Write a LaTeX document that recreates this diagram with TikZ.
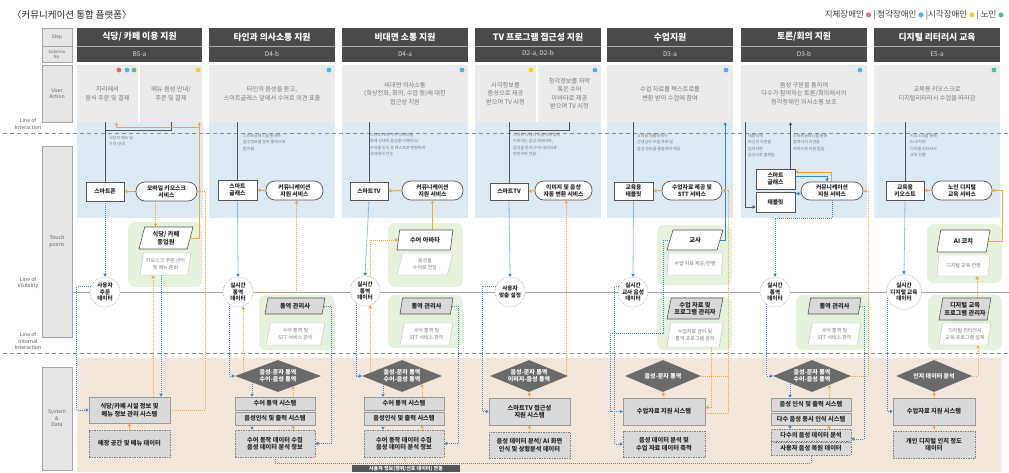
\documentclass[tikz,border=0pt]{standalone}
\usepackage{fontspec}
\setmainfont{Noto Sans CJK KR}
\usetikzlibrary{shapes.geometric,arrows.meta,calc}
\definecolor{hdrc}{HTML}{4A4A4A}
\definecolor{uag}{HTML}{EBEBEB}
\definecolor{bluebg}{HTML}{DDE9F3}
\definecolor{greenbg}{HTML}{E6F2DD}
\definecolor{beige}{HTML}{F3E7DC}
\definecolor{labg}{HTML}{E6E6E6}
\definecolor{sysg}{HTML}{D9D9D9}
\definecolor{diac}{HTML}{6A6A6A}
\definecolor{orc}{HTML}{F5A63A}
\definecolor{blc}{HTML}{3A86CC}
\definecolor{dkc}{HTML}{555555}
\definecolor{txg}{HTML}{7A7A7A}
\definecolor{dred}{HTML}{E8686A}
\definecolor{dblue}{HTML}{4BB4E6}
\definecolor{dyel}{HTML}{F6D01A}
\definecolor{dgrn}{HTML}{52C08D}
\newcommand\fs[2]{\fontsize{#1}{#2}\selectfont}
\newcommand\bx[7]{%
  \pgfmathsetmacro\bxw{#5-#3}%
  \pgfmathsetmacro\bxh{#6-#4}%
  \node[#2,minimum width=\bxw pt,minimum height=\bxh pt] (#1) at ({(#3+#5)/2},{(#4+#6)/2}) {#7};}
\pgfdeclarelayer{bg}
\pgfdeclarelayer{conn}
\pgfsetlayers{bg,conn,main}
\tikzset{
  arrtip/.style={-{Triangle[length=3pt,width=3.4pt]}},
  uap/.style={fill=uag, draw=none, inner sep=0pt, text=txg, font=\fs{6.2}{8.5}, align=center},
  tp/.style={draw=dkc, fill=white, line width=0.7pt, inner sep=0pt, font=\fs{5.8}{7.2}\bfseries, align=center, text=black!85},
  pill/.style={tp, rounded corners=9pt},
  act/.style={trapezium, trapezium left angle=75, trapezium right angle=105, trapezium stretches=true, draw=dkc, fill=white, line width=0.6pt, inner sep=0pt, font=\fs{6.2}{7.5}\bfseries, align=center, text=black!85},
  actg/.style={act, fill=sysg},
  actd/.style={act, draw=black!25, line width=0.4pt, font=\fs{5}{6.5}, text=txg},
  sys/.style={fill=sysg, draw=black!40, line width=0.5pt, inner sep=0pt, font=\fs{6.2}{7.6}\bfseries, align=center, text=black!85},
  dat/.style={sys, draw=black!50, dash pattern=on 1.5pt off 1pt},
  dia/.style={diamond, aspect=2.6, fill=diac, text=white, inner sep=0pt, minimum width=80pt, minimum height=32pt, font=\fs{6}{7.4}\bfseries, align=center},
  dcirc/.style={circle, draw=black!40, dash pattern=on 1pt off 1pt, fill=white, minimum size=30pt, inner sep=0pt, font=\fs{5.6}{6.8}\bfseries, align=center, text=black!85},
  note/.style={anchor=north west, inner sep=0pt, font=\fs{4}{6.4}, text=txg, align=left},
  grn/.style={fill=greenbg, rounded corners=7pt},
  dkl/.style={draw=dkc, line width=0.9pt},
  dka/.style={dkl, arrtip},
  osol/.style={draw=orc, line width=0.9pt, arrtip},
  bsol/.style={draw=blc, line width=0.9pt, arrtip},
  odot/.style={draw=orc, line width=0.8pt, dash pattern=on 1pt off 1pt, arrtip},
  bdot/.style={draw=blc, line width=0.8pt, dash pattern=on 1pt off 1pt, arrtip},
  gdot/.style={draw=black!50, line width=0.6pt, dash pattern=on 1pt off 1pt},
  hdrt/.style={fill=hdrc, inner sep=0pt, text=white, font=\fs{8.8}{10}\bfseries},
  hdrs/.style={fill=hdrc, inner sep=0pt, text=white!85!black, font=\fs{6.5}{8}},
  labbox/.style={fill=labg, draw=black!35, line width=0.5pt, inner sep=0pt, text=black!60, font=\fs{5.2}{6.5}, align=center},
  lin/.style={inner sep=0pt, text=black!65, font=\fs{5.2}{6.3}, align=center},
  sepl/.style={draw=white!55!hdrc, line width=0.5pt},
}
\begin{document}
\begin{tikzpicture}[x=1pt,y=-1pt]
\useasboundingbox (0,0) rectangle (1009,472);
\clip (0,0) rectangle (1009,472);

% ---------------- backgrounds ----------------
\begin{pgfonlayer}{bg}
\fill[white] (0,0) rectangle (1009,472);
\fill[beige] (77,358) rectangle (1001,472);
\foreach \l in {77,209,342,475,607,741,874}{
  \fill[bluebg] (\l,122) rectangle ({\l+126},218);
}
\fill[grn] (128,222) rectangle (202,287);
\fill[grn] (259,295) rectangle (335,350);
\fill[grn] (388,223) rectangle (463,287);
\fill[grn] (388,295) rectangle (463,348);
\fill[grn] (657,225) rectangle (732,285);
\fill[grn] (657,297) rectangle (732,350);
\fill[grn] (796,295) rectangle (870,350);
\fill[grn] (927,224) rectangle (1002,283);
\fill[grn] (928,295) rectangle (1002,350);
\draw[black!45, line width=0.6pt, dash pattern=on 4pt off 3pt] (3,133) -- (1009,133);
\draw[black!35, line width=0.7pt] (72,292) -- (1009,292);
\draw[black!45, line width=0.6pt, dash pattern=on 4pt off 3pt] (3,353) -- (1009,353);
\end{pgfonlayer}

% ---------------- title & legend ----------------
\node[anchor=west, inner sep=0pt, font=\fs{9.5}{11}, text=black!85] (title) at (12,15) {〈커뮤니케이션 통합 플랫폼〉};
\node[anchor=east, inner sep=0pt, font=\fs{8.5}{10}, text=black!75] (legend) at (1004,15)
  {지체장애인 {\fs{5.5}{5.5}\textcolor{dred}{●}} | 청각장애인 {\fs{5.5}{5.5}\textcolor{dblue}{●}} |시각장애인 {\fs{5.5}{5.5}\textcolor{dyel}{●}} | 노인 {\fs{5.5}{5.5}\textcolor{dgrn}{●}}};

% ---------------- left labels ----------------
\bx{lstep}{labbox,font=\fs{4.8}{5.5}}{42}{28}{72}{46}{Step}
\bx{lsol}{labbox,font=\fs{4.3}{4.8}}{42}{46}{72}{62}{Solution\\No.}
\bx{lua}{labbox}{42}{65}{72}{122}{User\\Action}
\bx{ltp}{labbox}{42}{146}{72}{337}{Touch\\points}
\bx{lsd}{labbox}{42}{367}{72}{470}{System\\\&\\Data}
\node[lin] (l1) at (28,124) {Line of\\Interaction};
\node[lin] (l2) at (28,283) {Line of\\Visibility};
\node[lin] (l3) at (28,341) {Line of\\Internal\\Interaction};

% ---------------- headers ----------------
\bx{h1}{hdrt}{77}{28}{202}{46}{식당/ 카페 이용 지원}
\bx{s1}{hdrs}{77}{46}{202}{62}{B5-a}
\bx{h2}{hdrt}{209}{28}{335}{46}{타인과 의사소통 지원}
\bx{s2}{hdrs}{209}{46}{335}{62}{D4-b}
\bx{h3}{hdrt}{342}{28}{468}{46}{비대면 소통 지원}
\bx{s3}{hdrs}{342}{46}{468}{62}{D4-a}
\bx{h4}{hdrt}{475}{28}{601}{46}{TV 프로그램 접근성 지원}
\bx{s4}{hdrs}{475}{46}{601}{62}{D2-a, D2-b}
\bx{h5}{hdrt}{607}{28}{733}{46}{수업지원}
\bx{s5}{hdrs}{607}{46}{733}{62}{D3-a}
\bx{h6}{hdrt}{741}{28}{867}{46}{토론/회의 지원}
\bx{s6}{hdrs}{741}{46}{867}{62}{D3-b}
\bx{h7}{hdrt}{874}{28}{1000}{46}{디지털 리터러시 교육}
\bx{s7}{hdrs}{874}{46}{1000}{62}{E5-a}
\foreach \n in {1,...,7}{\draw[sepl] (h\n.south west) -- (h\n.south east);}
\draw[draw=black!35, line width=0.5pt] (lstep.south west) -- (lstep.south east);

% ---------------- user action ----------------
\bx{ua1a}{uap}{77}{65}{138}{122}{자리에서\\음식 주문 및 결제}
\bx{ua1b}{uap}{140}{65}{202}{122}{메뉴 음성 안내/\\주문 및 결제}
\bx{ua2}{uap}{209}{65}{335}{122}{타인의 음성을 듣고,\\스마트글래스 앞에서 수어로 의견 표출}
\bx{ua3}{uap}{342}{65}{468}{122}{비대면 의사소통\\(화상전화, 회의, 수업 등)에 대한\\접근성 지원}
\bx{ua4a}{uap}{475}{65}{536}{122}{시각정보를\\음성으로 제공\\받으며 TV 시청}
\bx{ua4b}{uap}{538}{65}{601}{122}{청각정보를 자막\\혹은 수어\\아바타로 제공\\받으며 TV 시청}
\bx{ua5}{uap}{607}{65}{733}{122}{수업 자료를 텍스트로를\\변환 받아 수업에 참여}
\bx{ua6}{uap}{741}{65}{867}{122}{음성 구분을 통하여\\다수가 참여하는 토론/회의에서의\\청각장애인 의사소통 보조}
\bx{ua7}{uap}{874}{65}{1000}{122}{교육용 키오스크로\\디지털리터러시 수업을 따라감}
\fill[dred] (119,70) circle (2.4);
\fill[dblue] (127,70) circle (2.4);
\fill[dgrn] (134,70) circle (2.4);
\fill[dyel] (198,70) circle (2.4);
\fill[dblue] (329,70) circle (2.4);
\fill[dblue] (462,70) circle (2.4);
\fill[dyel] (531,70) circle (2.4);
\fill[dblue] (595,70) circle (2.4);
\fill[dblue] (726,70) circle (2.4);
\fill[dblue] (860,70) circle (2.4);
\fill[dgrn] (994,70) circle (2.4);

% ---------------- notes ----------------
\node[note] (n1) at (109,136) {식당의 메뉴 및\\가격 안내};
\node[note] (n2) at (243,134) {스마트글래스를 통하여\\음성정보를 문자 통역으로\\받아봄};
\node[note] (n3) at (370,133) {스마트TV와 수어 아바타를\\통해 상대의 음성을 이해하고/\\수어를 인식 후 텍스트로 변환하여\\상대에게 전송};
\node[note] (n4) at (513,133) {스마트TV에서 사용자에 맞춰\\이미지는 음성 데이터로,\\음성을 문자/수어 데이터로\\변환하여 전달};
\node[note] (n5) at (637,134) {교육용 태블릿에서\\선생님의 수업 자료 및\\음성 정보를 통합하여 제공};
\node[note] (n6a) at (748,134) {태블릿에\\자신의 의견을\\입력하면\\음성으로 출력됨};
\node[note] (n6b) at (793,134) {스마트글래스를 통해\\참여자의 의견을\\자막으로 지원 받음};
\node[note] (n7) at (910,134) {키오스크를 통해\\AI 코치와\\디지털 리터러시\\교육 진행};

% ---------------- column 1 ----------------
\bx{tp1a}{tp}{86}{182}{124}{201}{스마트폰}
\bx{tp1b}{pill}{136}{182}{197}{201}{모바일 키오스크\\서비스}
\bx{ac1}{act}{139}{227}{193}{249}{식당/ 카페\\종업원}
\bx{ac1d}{actd}{140}{253}{191}{275}{키오스크 주문 관리\\및 메뉴 준비}
\node[dcirc] (ci1) at (105,292) {사용자\\주문\\데이터};
\bx{sy1}{sys}{89}{397}{170}{423}{식당/카페 시설 정보 및\\메뉴 정보 관리 시스템}
\bx{db1}{dat}{89}{430}{170}{457}{매장 공간 및 메뉴 데이터}

% ---------------- column 2 ----------------
\bx{tp2a}{tp}{218}{180}{257}{200}{스마트\\글래스}
\bx{tp2b}{pill}{266}{181}{323}{200}{커뮤니케이션\\지원 서비스}
\node[dcirc] (ci2) at (238,292) {실시간\\통역\\데이터};
\bx{ac2}{actg}{265}{298}{325}{314}{통역 관리사}
\bx{ac2d}{actd}{266}{323}{325}{345}{수어 통역 및\\STT 서비스 관리}
\node[dia, minimum width=86pt] (di2) at (278,376) {음성-문자 통역\\수어-음성 통역};
\bx{sy2a}{sys}{235}{397}{315}{410}{수어 통역 시스템}
\bx{sy2b}{sys}{235}{412}{315}{425}{음성인식 및 출력 시스템}
\bx{db2}{dat}{235}{430}{315}{457}{수어 동작 데이터 수집\\음성 데이터 분석 정보}

% ---------------- column 3 ----------------
\bx{tp3a}{tp}{350}{182}{388}{200}{스마트TV}
\bx{tp3b}{pill}{402}{181}{463}{200}{커뮤니케이션\\지원 서비스}
\bx{ac3}{act}{397}{230}{453}{250}{수어 아바타}
\bx{ac3d}{actd}{397}{253}{453}{275}{음성을\\수어로 전달}
\node[dcirc] (ci3) at (365,291) {실시간\\통역\\데이터};
\bx{ac3g}{actg}{400}{298}{453}{314}{통역 관리사}
\bx{ac3gd}{actd}{400}{323}{453}{345}{수어 통역 및\\STT 서비스 관리}
\node[dia] (di3) at (402,376) {음성-문자 통역\\수어-음성 통역};
\bx{sy3a}{sys}{364}{397}{444}{410}{수어 통역 시스템}
\bx{sy3b}{sys}{364}{412}{444}{425}{음성인식 및 출력 시스템}
\bx{db3}{dat}{364}{430}{444}{457}{수어 동작 데이터 수집\\음성 데이터 분석 정보}

% ---------------- column 4 ----------------
\bx{tp4a}{tp}{490}{183}{528}{200}{스마트TV}
\bx{tp4b}{pill}{535}{181}{592}{200}{이미지 및 음성\\자동 변환 서비스}
\node[dcirc] (ci4) at (510,292) {사용자\\맞춤 설정};
\node[dia, minimum width=78pt] (di4) at (529,376) {음성-문자 통역\\이미지-음성 통역};
\bx{sy4}{sys}{489}{398}{570}{425}{스마트TV 접근성\\지원 시스템}
\bx{db4}{dat}{489}{432}{570}{458}{음성 데이터 분석/ AI 화면\\인식 및 상황분석 데이터}

% ---------------- column 5 ----------------
\bx{tp5a}{tp}{614}{182}{653}{200}{교육용\\태블릿}
\bx{tp5b}{pill}{662}{181}{722}{200}{수업자료 제공 및\\STT 서비스}
\bx{ac5}{act}{667}{230}{723}{250}{교사}
\bx{ac5d}{actd}{667}{253}{723}{275}{수업 자료 제공/진행}
\node[dcirc] (ci5) at (633,292) {실시간\\교사 음성\\데이터};
\bx{ac5g}{actg}{667}{298}{723}{319}{수업 자료 및\\프로그램 관리자}
\bx{ac5gd}{actd}{667}{323}{723}{347}{수업자료 관리 및\\통역 프로그램 관리}
\node[dia, minimum width=76pt] (di5) at (663,376) {음성-문자 통역};
\bx{sy5}{sys}{623}{398}{705}{425}{수업자료 지원 시스템}
\bx{db5}{dat}{623}{431}{705}{457}{음성 데이터 분석 및\\수업 자료 데이터 축적}

% ---------------- column 6 ----------------
\bx{tp6a}{tp}{756}{169}{795}{189}{스마트\\글래스}
\bx{tp6c}{tp}{756}{192}{795}{212}{태블릿}
\bx{tp6b}{pill}{801}{182}{863}{200}{커뮤니케이션\\지원 서비스}
\node[dcirc] (ci6) at (775,292) {실시간\\통역\\데이터};
\bx{ac6}{actg}{808}{298}{861}{314}{통역 관리사}
\bx{ac6d}{actd}{808}{323}{861}{345}{수어 통역 및\\STT 서비스 관리}
\node[dia, minimum width=78pt] (di6) at (812,376) {음성-문자 통역\\수어-음성 통역};
\bx{sy6a}{sys}{771}{398}{851}{411}{음성 인식 및 출력 시스템}
\bx{sy6b}{sys}{771}{413}{851}{425}{다수 음성 동시 인식 시스템}
\bx{db6a}{dat}{771}{429}{851}{441}{다수의 음성 데이터 분석}
\bx{db6b}{dat}{771}{442}{851}{455}{사용자 음성 복원 데이터}

% ---------------- column 7 ----------------
\bx{tp7a}{tp}{886}{181}{924}{200}{교육용\\키오스트}
\bx{tp7b}{pill}{932}{181}{992}{200}{노인 디지털\\교육 서비스}
\bx{ac7}{act}{937}{230}{990}{252}{AI 코치}
\bx{ac7d}{actd}{937}{255}{990}{276}{디지털 교육 진행}
\node[dcirc, minimum size=35pt] (ci7) at (904,292) {실시간\\디지털 교육\\데이터};
\bx{ac7g}{actg}{939}{298}{991}{320}{디지털 교육\\프로그램 관리자}
\bx{ac7gd}{actd}{939}{323}{991}{345}{디지털 리터러시\\교육 프로그램 설계}
\node[dia, minimum width=76pt] (di7) at (934,376) {인지 데이터 분석};
\bx{sy7}{sys}{893}{398}{975}{425}{수업자료 지원 시스템}
\bx{db7}{dat}{893}{431}{975}{458}{개인 디지털 인지 정도\\데이터}

% bottom shared box
\bx{bot}{fill=dkc, inner sep=0pt, text=white, font=\fs{5}{6}\bfseries}{352}{465}{460}{472}{사용자 정보(행위/선호 데이터) 연동}

% ---------------- connectors ----------------
\begin{pgfonlayer}{conn}
% col 1
\draw[dkl] (ua1a.south -| tp1a.north) -- (tp1a.north);
\draw[dkl] (ua1b.south) -- ++(0,8) -| (tp1a.north);
\draw[osol] (ac1.east) -| ([xshift=-3pt]ua1b.south east);
\draw[osol] ($(ua1b.south east)+(-3,5)$) -| ([xshift=9pt]ua1a.south);
\draw[osol] (tp1b.west) -- (tp1a.east);
\draw[odot] ([xshift=-11pt]tp1b.south) -- ([xshift=-11pt]tp1b.south |- ac1.north);
\draw[bdot] (tp1a.south) -- (ci1.north);
\draw[bdot] (ci1.160) -- ++(-14,0) |- (sy1.west);
\draw[odot] (sy1.north -| 153,0) -- (ac1d.south -| 153,0);
\draw[bdot] (ac1d.south -| 161,0) -- (sy1.north -| 161,0);
\draw[odot] (sy1.east) -| ([xshift=8pt]tp1b.east) -- (tp1b.east);
\draw[odot] (db1.north) -- (sy1.south);
% col 2
\draw[dkl] (ua2.south -| tp2a.north) -- (tp2a.north);
\draw[osol] (tp2b.west) -- (tp2a.east);
\draw[bdot] (tp2a.south) -- (ci2.north);
\draw[odot] (ci2.east) -| ([xshift=2pt]tp2b.south);
\draw[odot] (di2 -| ci2.290) -- (ci2.290);
\draw[bdot] (ci2.235) |- (di2.west);
\draw[bdot] (di2 -| 252,0) -- (sy2a.north -| 252,0);
\draw[odot] (sy2a.north -| 293,0) -- ($(di2.south)+(15,-6)$);
\draw[bdot] (sy2b.south -| 252,0) -- (db2.north -| 252,0);
\draw[odot] (db2.north -| 293,0) -- (sy2b.south -| 293,0);
\draw[bdot] (ac2.east) -| ([xshift=16pt]db2.east) -- (db2.east);
% col 3
\draw[dkl] (ua3.south -| tp3a.north) -- (tp3a.north);
\draw[osol] (tp3b.west) -- (tp3a.east);
\draw[osol] (tp3b.south |- ac3.north) -- (tp3b.south);
\draw[bdot] (tp3a.south) -- (ci3.north);
\draw[odot] (ci3.70) |- (ac3.west);
\draw[odot] (di3 -| ci3.290) -- (ci3.290);
\draw[bdot] (ci3.235) |- (di3.west);
\draw[bdot] (di3 -| 383,0) -- (sy3a.north -| 383,0);
\draw[odot] (sy3a.north -| 422,0) -- ($(di3.south)+(20,-8)$);
\draw[bdot] (sy3b.south -| 383,0) -- (db3.north -| 383,0);
\draw[odot] (db3.north -| 422,0) -- (sy3b.south -| 422,0);
\draw[bdot] (ac3g.east) -| ([xshift=14pt]db3.east) -- (db3.east);
% col 4
\draw[dkl] (ua4a.south -| tp4a.north) -- (tp4a.north);
\draw[dkl] (ua4b.south) -- ++(0,8) -| (tp4a.north);
\draw[osol] (tp4b.west) -- (tp4a.east);
\draw[bdot] (tp4a.south) -- (ci4.north);
\draw[bdot] (ci4.160) -- ++(-13,0) |- (sy4.west);
\draw[odot] ([xshift=-2pt]di4.east) -- ([xshift=-2pt]di4.east |- tp4b.south);
\draw[odot] (sy4.north) -- (di4.south);
\draw[odot] (db4.north) -- (sy4.south);
% col 5
\draw[dkl] (ua5.south -| tp5a.north) -- (tp5a.north);
\draw[osol] (tp5b.west) -- (tp5a.east);
\draw[bsol] (ac5.east) -| ([xshift=-8pt]ua5.south east);
\draw[bdot] (tp5a.south) -- (ci5.north);
\draw[bdot] (ci5.160) -- ++(-4,0) |- (db5.west);
\draw[bdot] (ac5.west) -- ++(-6,0) -- ++(0,93) -| ([xshift=-12pt]sy5.west) -- (sy5.west);
\draw[odot] ([yshift=-2pt]sy5.east) -| ([xshift=6pt]tp5b.east) -- (tp5b.east);
\draw[odot, -] (di5.east) -- (di5.east -| 728,0);
\draw[odot] (ac5gd.south -| 711,0) |- ([yshift=4pt]sy5.east);
\draw[odot] (sy5.north) -- (di5.south);
% col 6
\draw[dka] (ua6.south -| 745,0) |- ([yshift=-5pt]tp6c.west);
\draw[dka] ([xshift=15pt]tp6a.north) -- ([xshift=15pt]tp6a.north |- ua6.south);
\draw[osol] ([xshift=-1pt]tp6b.north) |- ([yshift=7pt]tp6a.east);
\draw[bsol] ([yshift=3pt]tp6a.east) -| ([xshift=-5pt]tp6b.north);
\draw[bsol] ([yshift=-2pt]tp6c.north east) -- ([yshift=-2pt]tp6c.north east -| tp6b.west);
\draw[odot] (di6.east) -| ([xshift=5pt]tp6b.east) -- (tp6b.east);
\draw[bdot] (tp6b.south) -- ++(0,18) -| (ci6.north);
\draw[bdot] (ci6.235) |- (di6.west);
\draw[bdot] (di6 -| 790,0) -- (sy6a.north -| 790,0);
\draw[odot] (sy6a.north -| 829,0) -- ($(di6.south)+(17,-7)$);
\draw[bdot] (sy6b.south -| 790,0) -- (db6a.north -| 790,0);
\draw[odot] (db6a.north -| 829,0) -- (sy6b.south -| 829,0);
\draw[bdot] (ac6.east) -| ([xshift=13pt,yshift=-4pt]db6a.east) -- ([yshift=-4pt]db6a.east);
% col 7
\draw[dkl] (ua7.south -| tp7a.north) -- (tp7a.north);
\draw[osol] (tp7b.west) -- (tp7a.east);
\draw[osol] (ac7.east) -| ([xshift=10pt]tp7b.east) -- (tp7b.east);
\draw[bdot] (tp7a.south) -- (ci7.north);
\draw[odot] (ac7g.north -| 977,0) -- (ac7d.south -| 977,0);
\draw[odot] (di7.east) -| ([xshift=13pt]ac7gd.south);
\draw[bdot] (ci7.200) |- (sy7.west);
\draw[odot] (sy7.north) -- (di7.south);
\draw[odot] (db7.north) -- (sy7.south);
% bottom
\draw[gdot] (db2.south) |- ($(db6b.south)+(0,8)$) -- (db6b.south);
\draw[gdot] (db3.south) -- (bot.north);
\end{pgfonlayer}
\end{tikzpicture}
\end{document}
